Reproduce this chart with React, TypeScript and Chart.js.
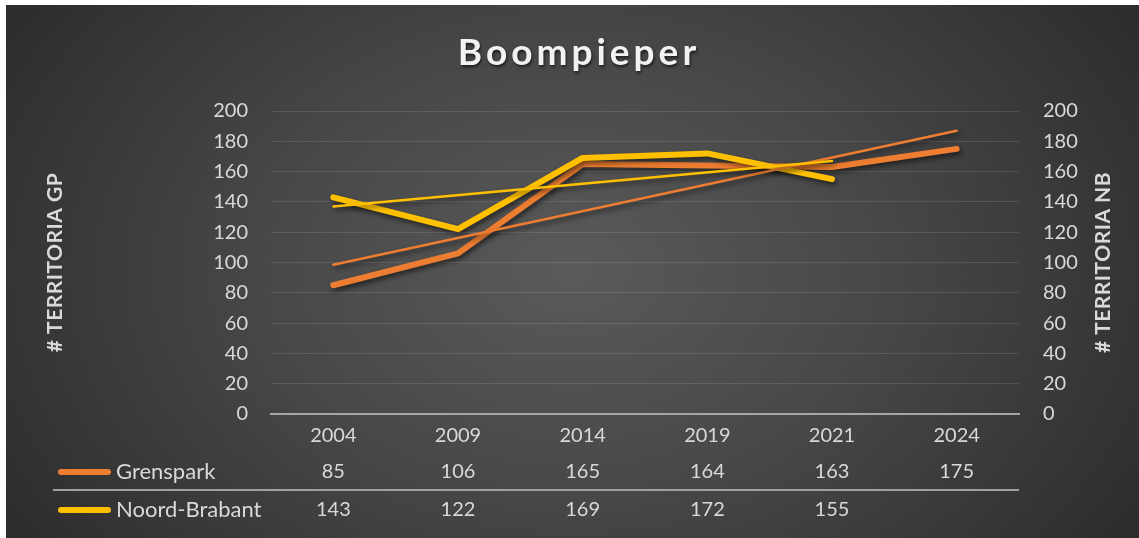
import { useEffect, useRef } from 'react';
import { Chart, registerables } from 'chart.js';

Chart.register(...registerables);

// ---- data ----
const chartTitle = 'Boompieper';
const years = ['2004', '2009', '2014', '2019', '2021', '2024'];
const grenspark: (number | null)[] = [85, 106, 165, 164, 163, 175];
const noordBrabant: (number | null)[] = [143, 122, 169, 172, 155, null];
// linear trendline end points
const trendGrenspark: (number | null)[] = [98.5, null, null, null, null, 187];
const trendNoordBrabant: (number | null)[] = [137, null, null, null, 167, null];
const seriesNames = ['Grenspark', 'Noord-Brabant'];
const leftAxisTitle = '# TERRITORIA GP';
const rightAxisTitle = '# TERRITORIA NB';
const yMin = 0;
const yMax = 200;
const yStep = 20;

const ORANGE = '#ED7D31';
const YELLOW = '#FFC000';
const TEXT = '#d9d9d9';
const FONT = 'Lato, "Open Sans", sans-serif';

const shadowPlugin = {
  id: 'lineShadow',
  beforeDatasetDraw(chart: any) {
    const ctx = chart.ctx;
    ctx.save();
    ctx.shadowColor = 'rgba(0,0,0,0.55)';
    ctx.shadowBlur = 5;
    ctx.shadowOffsetX = 2;
    ctx.shadowOffsetY = 3;
  },
  afterDatasetDraw(chart: any) {
    chart.ctx.restore();
  },
};

const decorPlugin = {
  id: 'decor',
  afterDraw(chart: any) {
    const ctx: CanvasRenderingContext2D = chart.ctx;
    const area = chart.chartArea;
    const xs = chart.scales.x;

    // title
    ctx.save();
    ctx.font = `bold 37px ${FONT}`;
    (ctx as any).letterSpacing = '4px';
    ctx.fillStyle = '#f2f2f2';
    ctx.textAlign = 'center';
    ctx.textBaseline = 'alphabetic';
    ctx.shadowColor = 'rgba(0,0,0,0.6)';
    ctx.shadowBlur = 3;
    ctx.shadowOffsetX = 1;
    ctx.shadowOffsetY = 2;
    ctx.fillText(chartTitle, 573, 60);
    ctx.restore();

    // axis titles
    const midY = (area.top + area.bottom) / 2;
    const drawVTitle = (text: string, x: number) => {
      ctx.save();
      ctx.font = `bold 21px ${FONT}`;
      (ctx as any).letterSpacing = '0.5px';
      ctx.fillStyle = TEXT;
      ctx.textAlign = 'center';
      ctx.textBaseline = 'middle';
      ctx.translate(x, midY);
      ctx.rotate(-Math.PI / 2);
      ctx.fillText(text, 0, 0);
      ctx.restore();
    };
    drawVTitle(leftAxisTitle, 49);
    drawVTitle(rightAxisTitle, 1097);

    // data table
    const rows = [
      { name: seriesNames[0], data: grenspark, color: ORANGE, y: area.bottom + 58 },
      { name: seriesNames[1], data: noordBrabant, color: YELLOW, y: area.bottom + 96 },
    ];
    ctx.save();
    ctx.strokeStyle = '#a0a0a0';
    ctx.lineWidth = 2;
    ctx.beginPath();
    ctx.moveTo(47, area.bottom + 76);
    ctx.lineTo(area.right, area.bottom + 76);
    ctx.stroke();
    rows.forEach((r) => {
      ctx.strokeStyle = r.color;
      ctx.lineWidth = 6;
      ctx.lineCap = 'round';
      ctx.beginPath();
      ctx.moveTo(55, r.y);
      ctx.lineTo(102, r.y);
      ctx.stroke();
      ctx.fillStyle = TEXT;
      ctx.textBaseline = 'middle';
      ctx.textAlign = 'left';
      ctx.font = `22px ${FONT}`;
      ctx.fillText(r.name, 110, r.y);
      ctx.font = `20px ${FONT}`;
      ctx.textAlign = 'center';
      r.data.forEach((v, i) => {
        if (v === null) return;
        ctx.fillText(String(v), xs.getPixelForValue(i), r.y);
      });
    });
    ctx.restore();
  },
};

export default function App() {
  const canvasRef = useRef<HTMLCanvasElement>(null);

  useEffect(() => {
    document.body.style.margin = '0';
    const chart = new Chart(canvasRef.current!, {
      type: 'line',
      data: {
        labels: years,
        datasets: [
          {
            label: seriesNames[0],
            data: grenspark,
            borderColor: ORANGE,
            backgroundColor: ORANGE,
            borderWidth: 6,
            pointRadius: 0,
            borderCapStyle: 'round',
            borderJoinStyle: 'round',
            yAxisID: 'y',
            order: 4,
          },
          {
            label: seriesNames[1],
            data: noordBrabant,
            borderColor: YELLOW,
            backgroundColor: YELLOW,
            borderWidth: 6,
            pointRadius: 0,
            borderCapStyle: 'round',
            borderJoinStyle: 'round',
            yAxisID: 'y2',
            order: 3,
          },
          {
            label: 'Trend ' + seriesNames[0],
            data: trendGrenspark,
            borderColor: ORANGE,
            borderWidth: 2.5,
            pointRadius: 0,
            spanGaps: true,
            borderCapStyle: 'round',
            yAxisID: 'y',
            order: 2,
          },
          {
            label: 'Trend ' + seriesNames[1],
            data: trendNoordBrabant,
            borderColor: YELLOW,
            borderWidth: 2.5,
            pointRadius: 0,
            spanGaps: true,
            borderCapStyle: 'round',
            yAxisID: 'y2',
            order: 1,
          },
        ],
      },
      options: {
        animation: false,
        responsive: false,
        layout: { padding: { top: 106, left: 0, right: 0, bottom: 0 } },
        plugins: { legend: { display: false }, title: { display: false }, tooltip: { enabled: false } },
        scales: {
          x: {
            type: 'category',
            offset: true,
            grid: { display: true, color: 'transparent', drawTicks: false },
            border: { display: true, color: '#a6a6a6', width: 2 },
            ticks: { color: TEXT, font: { family: FONT, size: 20 }, padding: 10, maxRotation: 0 },
            afterFit(scale: any) {
              scale.height = 124;
            },
          },
          y: {
            position: 'left',
            min: yMin,
            max: yMax,
            ticks: { stepSize: yStep, color: TEXT, font: { family: FONT, size: 20 }, padding: 23 },
            grid: { color: 'rgba(255,255,255,0.11)', lineWidth: 1, drawTicks: false },
            border: { display: false },
            afterFit(scale: any) {
              scale.width = 265;
            },
          },
          y2: {
            position: 'right',
            min: yMin,
            max: yMax,
            ticks: { stepSize: yStep, color: TEXT, font: { family: FONT, size: 20 }, padding: 24 },
            grid: { display: false, drawTicks: false },
            border: { display: false },
            afterFit(scale: any) {
              scale.width = 120;
            },
          },
        },
      },
      plugins: [shadowPlugin, decorPlugin],
    });
    return () => chart.destroy();
  }, []);

  return (
    <div
      style={{
        position: 'absolute',
        left: 6,
        top: 5,
        width: 1133,
        height: 533,
        background:
          'radial-gradient(ellipse 62% 95% at 50% 50%, #5a5a5a 0%, #474747 45%, #2a2a2a 100%)',
      }}
    >
      <canvas ref={canvasRef} width={1133} height={533} style={{ display: 'block' }} />
    </div>
  );
}
